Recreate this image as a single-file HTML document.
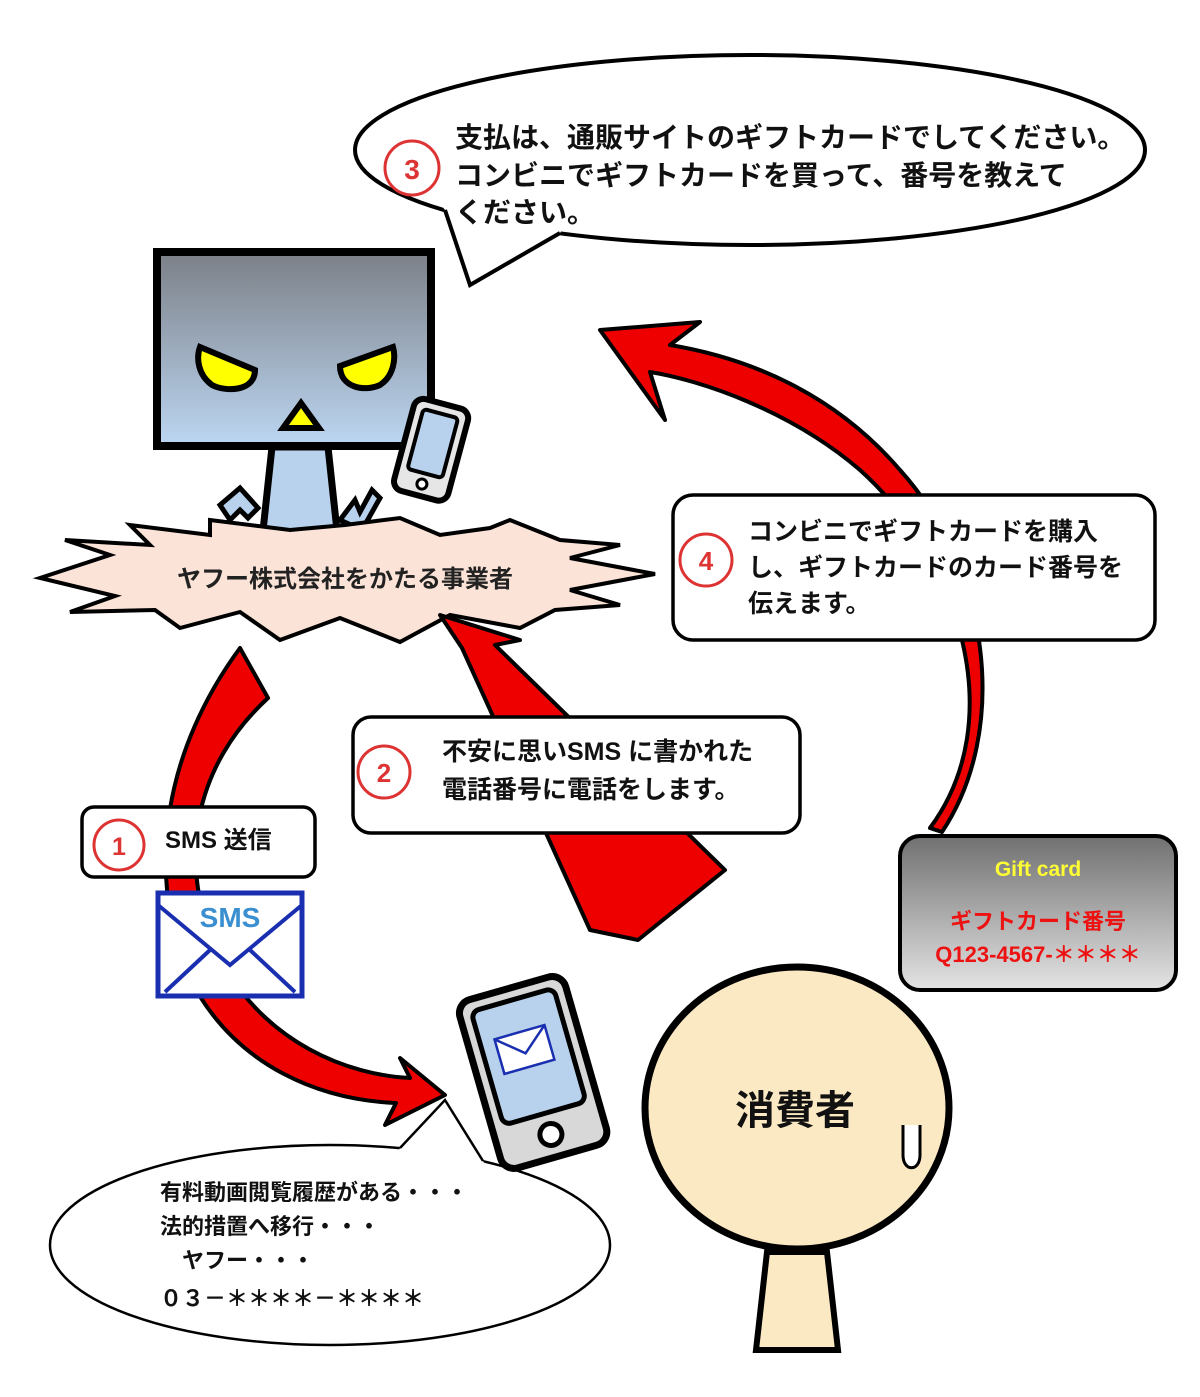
<!DOCTYPE html>
<html><head><meta charset="utf-8"><style>
html,body{margin:0;padding:0;background:#fff;}
svg{display:block;}
text{font-family:"Liberation Sans","Noto Sans CJK JP",sans-serif;font-weight:bold;}
</style></head><body>
<svg width="1200" height="1397" viewBox="0 0 1200 1397" xmlns="http://www.w3.org/2000/svg">
<defs>
<linearGradient id="head" x1="0" y1="0" x2="0" y2="1"><stop offset="0" stop-color="#7c8087"/><stop offset="1" stop-color="#bcd6f2"/></linearGradient>
<linearGradient id="card" x1="0" y1="0" x2="0" y2="1"><stop offset="0" stop-color="#707070"/><stop offset="1" stop-color="#e4e4e4"/></linearGradient>
</defs>

<!-- top speech bubble -->
<ellipse cx="750" cy="150" rx="395" ry="95" fill="#fff" stroke="#000" stroke-width="4"/>
<polygon points="430,190 445,210 470,285 560,233 590,190" fill="#fff"/>
<polyline points="445,210 470,285 560,233" fill="none" stroke="#000" stroke-width="4"/>
<circle cx="412" cy="168" r="27" fill="#fff" stroke="#d33" stroke-width="3"/>
<text x="412" y="179" font-size="28" fill="#d33" text-anchor="middle">3</text>
<text font-size="28" fill="#111"><tspan x="455" y="147">支払は、通販サイトのギフトカードでしてください。</tspan><tspan x="455" y="185">コンビニでギフトカードを買って、番号を教えて</tspan><tspan x="455" y="222">ください。</tspan></text>

<!-- arrow 4 (gift card -> head) -->
<path d="M930,828 C1010,720 960,560 860,470 C790,410 700,380 650,372 L665,420 L600,330 L700,322 L670,345 C760,360 840,400 900,470 C990,570 1010,730 942,832 Z" fill="#e00" stroke="#000" stroke-width="4" stroke-linejoin="round"/>

<!-- robot -->
<polygon points="272,447 328,447 338,540 262,540" fill="#b8d2ee" stroke="#000" stroke-width="7"/>
<path d="M220,505 L240,488 L258,508 L248,518 L240,510 L230,520 Z" fill="#b8d2ee" stroke="#000" stroke-width="5"/>
<path d="M340,520 L355,500 L360,512 L372,490 L380,498 L362,530 Z" fill="#b8d2ee" stroke="#000" stroke-width="5"/>
<rect x="157" y="252" width="274" height="194" fill="url(#head)" stroke="#000" stroke-width="8"/>
<path d="M200,347 L255,370 C255,392 225,392 212,385 C198,375 196,358 200,347 Z" fill="#ff0" stroke="#000" stroke-width="6"/>
<path d="M393,347 L340,366 C340,388 365,392 380,385 C394,376 396,358 393,347 Z" fill="#ff0" stroke="#000" stroke-width="6"/>
<polygon points="301,403 283,428 319,428" fill="#ff0" stroke="#000" stroke-width="6"/>
<g transform="rotate(15 430 450)"><rect x="403" y="402" width="56" height="95" rx="10" fill="#e6e6e6" stroke="#000" stroke-width="6"/><rect x="413" y="412" width="36" height="62" rx="4" fill="#b8d2ee" stroke="#000" stroke-width="4"/><circle cx="431" cy="485" r="5" fill="#fff" stroke="#000" stroke-width="3"/></g>

<!-- burst -->
<polygon points="40,578 110,555 65,540 150,545 130,525 210,535 210,520 290,530 345,525 400,518 440,535 490,528 510,520 560,540 620,545 570,558 655,574 570,590 620,605 555,610 520,628 450,615 400,642 340,618 280,640 240,612 180,628 155,610 70,612 115,596" fill="#fbe4d7" stroke="#000" stroke-width="4" stroke-linejoin="miter"/>
<text x="345" y="587" font-size="24" fill="#222" text-anchor="middle">ヤフー株式会社をかたる事業者</text>

<!-- arrow 2 straight -->
<polygon points="440,615 462,648 590,930 638,940 725,870 495,645 520,640" fill="#e00" stroke="#000" stroke-width="4" stroke-linejoin="round"/>

<!-- arrow 1 curve (head -> phone) -->
<path d="M240,648 L268,698 C195,765 175,860 218,955 C265,1045 350,1075 410,1078 L400,1058 L445,1095 L385,1125 L396,1103 C325,1100 235,1070 188,975 C145,870 165,750 240,648 Z" fill="#e00" stroke="#000" stroke-width="4" stroke-linejoin="round"/>

<!-- box 4 -->
<rect x="673" y="495" width="482" height="145" rx="20" fill="#fff" stroke="#000" stroke-width="3.5"/>
<circle cx="706" cy="560" r="26" fill="#fff" stroke="#d33" stroke-width="3"/>
<text x="706" y="570" font-size="26" fill="#d33" text-anchor="middle">4</text>
<text font-size="25" fill="#111"><tspan x="748" y="540">コンビニでギフトカードを購入</tspan><tspan x="748" y="576">し、ギフトカードのカード番号を</tspan><tspan x="748" y="612">伝えます。</tspan></text>

<!-- box 2 -->
<rect x="353" y="717" width="447" height="116" rx="18" fill="#fff" stroke="#000" stroke-width="3.5"/>
<circle cx="384" cy="772" r="26" fill="#fff" stroke="#d33" stroke-width="3"/>
<text x="384" y="782" font-size="26" fill="#d33" text-anchor="middle">2</text>
<text font-size="25" fill="#111"><tspan x="442" y="760">不安に思いSMS に書かれた</tspan><tspan x="442" y="798">電話番号に電話をします。</tspan></text>

<!-- box 1 -->
<rect x="82" y="807" width="233" height="70" rx="12" fill="#fff" stroke="#000" stroke-width="3.5"/>
<circle cx="119" cy="845" r="25" fill="#fff" stroke="#d33" stroke-width="3"/>
<text x="119" y="855" font-size="25" fill="#d33" text-anchor="middle">1</text>
<text x="165" y="848" font-size="24" fill="#111">SMS 送信</text>

<!-- envelope -->
<rect x="158" y="893" width="144" height="103" fill="#fff" stroke="#1a2fb0" stroke-width="5"/>
<polyline points="158,905 230,965 302,905" fill="none" stroke="#1a2fb0" stroke-width="4"/>
<line x1="165" y1="992" x2="210" y2="950" stroke="#1a2fb0" stroke-width="4"/>
<line x1="295" y1="992" x2="250" y2="950" stroke="#1a2fb0" stroke-width="4"/>
<text x="230" y="927" font-size="28" fill="#3a8fd0" text-anchor="middle">SMS</text>

<!-- bottom speech bubble -->
<ellipse cx="330" cy="1245" rx="280" ry="100" fill="#fff" stroke="#000" stroke-width="2.5"/>
<polygon points="396,1156 400,1148 445,1100 483,1161 488,1170" fill="#fff"/>
<polyline points="400,1148 445,1100 483,1161" fill="none" stroke="#000" stroke-width="2.5"/>
<text font-size="22" fill="#111"><tspan x="160" y="1200">有料動画閲覧履歴がある・・・</tspan><tspan x="160" y="1234">法的措置へ移行・・・</tspan><tspan x="182" y="1268">ヤフー・・・</tspan><tspan x="160" y="1306">０３－＊＊＊＊－＊＊＊＊</tspan></text>

<!-- phone bottom -->
<g transform="rotate(-16 533 1072)"><rect x="478" y="985" width="110" height="175" rx="14" fill="#d8d8d8" stroke="#000" stroke-width="7"/><rect x="490" y="997" width="86" height="118" rx="8" fill="#b8d2ee" stroke="#000" stroke-width="5"/><circle cx="533" cy="1137" r="11" fill="#fff" stroke="#000" stroke-width="5"/><rect x="505" y="1030" width="52" height="36" fill="#fff" stroke="#1a2fb0" stroke-width="2.5"/><polyline points="505,1030 531,1052 557,1030" fill="none" stroke="#1a2fb0" stroke-width="2.5"/></g>

<!-- consumer -->
<polygon points="767,1252 827,1252 838,1350 756,1350" fill="#fbe9c3" stroke="#000" stroke-width="6"/>
<ellipse cx="797" cy="1108" rx="152" ry="141" fill="#fbe9c3" stroke="#000" stroke-width="7"/>
<text x="795" y="1124" font-size="40" fill="#111" text-anchor="middle">消費者</text>
<path d="M903,1125 L903,1155 C903,1172 920,1172 920,1155 L920,1125" fill="#fff" stroke="#000" stroke-width="3"/>

<!-- gift card -->
<rect x="900" y="836" width="276" height="154" rx="20" fill="url(#card)" stroke="#000" stroke-width="4"/>
<text x="1038" y="876" font-size="21" fill="#ff3" text-anchor="middle">Gift card</text>
<text x="1038" y="929" font-size="22" fill="#e11" text-anchor="middle">ギフトカード番号</text>
<text x="1038" y="962" font-size="22" fill="#e11" text-anchor="middle">Q123-4567-＊＊＊＊</text>
</svg>
</body></html>
